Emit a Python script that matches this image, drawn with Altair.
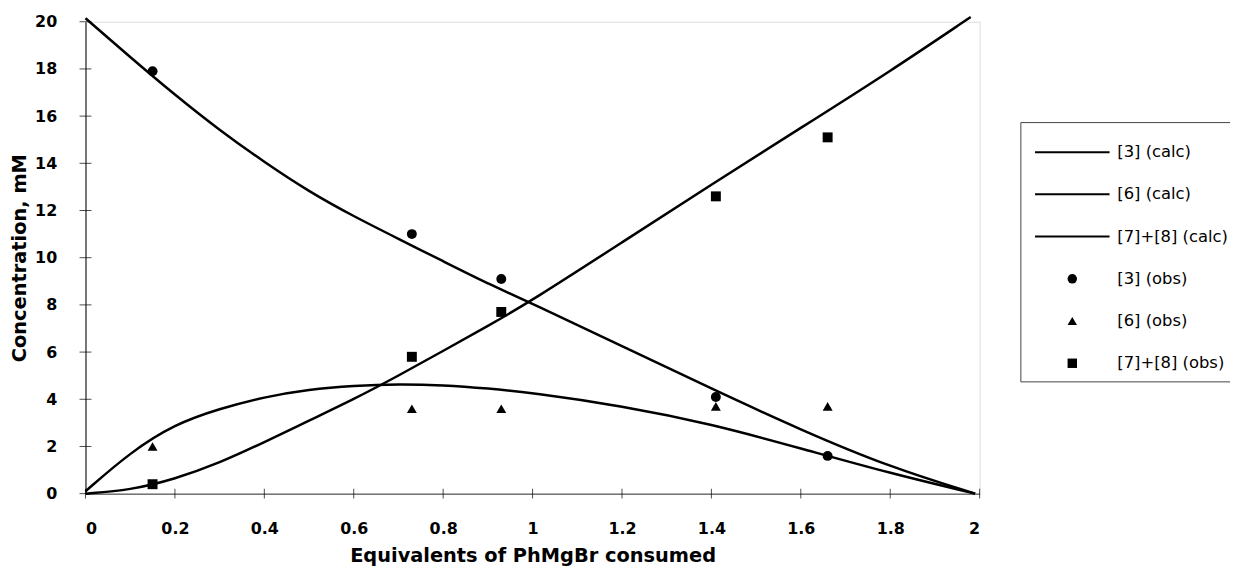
import altair as alt
import pandas as pd

# ---- data ----
series_names = ["[3] (calc)", "[6] (calc)", "[7]+[8] (calc)",
                "[3] (obs)", "[6] (obs)", "[7]+[8] (obs)"]

calc3_x = [0, 0.1, 0.2, 0.3, 0.4, 0.5, 0.6, 0.7, 0.8, 0.9, 1.0, 1.2, 1.4, 1.6, 1.8, 1.99]
calc3_y = [20.15, 18.5, 16.9, 15.4, 14.05, 12.8, 11.75, 10.8, 9.85, 8.9, 8.05, 6.25, 4.45, 2.7, 1.12, 0]

calc6_x = [0, 0.1, 0.2, 0.3, 0.4, 0.5, 0.6, 0.7, 0.8, 0.9, 1.0, 1.2, 1.4, 1.6, 1.8, 1.99]
calc6_y = [0.1, 1.75, 2.95, 3.6, 4.1, 4.42, 4.58, 4.65, 4.6, 4.46, 4.27, 3.72, 2.95, 1.92, 0.86, 0]

calc78_x = [0, 0.1, 0.2, 0.3, 0.4, 0.5, 0.6, 0.7, 0.8, 0.9, 1.0, 1.2, 1.4, 1.6, 1.8, 1.98]
calc78_y = [0, 0.15, 0.62, 1.3, 2.18, 3.1, 4.0, 5.0, 6.05, 7.1, 8.2, 10.65, 13.1, 15.5, 17.9, 20.2]

obs_x = [0.15, 0.73, 0.93, 1.41, 1.66]
obs3_y = [17.9, 11.0, 9.1, 4.1, 1.6]
obs6_y = [2.0, 3.6, 3.6, 3.7, 3.7]
obs78_y = [0.4, 5.8, 7.7, 12.6, 15.1]

x_ticks = [0, 0.2, 0.4, 0.6, 0.8, 1.0, 1.2, 1.4, 1.6, 1.8, 2.0]
y_ticks = [0, 2, 4, 6, 8, 10, 12, 14, 16, 18, 20]

# ---- tables ----
calc_df = pd.concat([
    pd.DataFrame({"x": calc3_x, "y": calc3_y, "series": series_names[0]}),
    pd.DataFrame({"x": calc6_x, "y": calc6_y, "series": series_names[1]}),
    pd.DataFrame({"x": calc78_x, "y": calc78_y, "series": series_names[2]}),
])
obs_df = pd.concat([
    pd.DataFrame({"x": obs_x, "y": obs3_y, "series": series_names[3]}),
    pd.DataFrame({"x": obs_x, "y": obs6_y, "series": series_names[4]}),
    pd.DataFrame({"x": obs_x, "y": obs78_y, "series": series_names[5]}),
])
ytick_df = pd.DataFrame({"x": [0] * len(y_ticks), "y": y_ticks})
xtick_df = pd.DataFrame({"x": x_ticks, "y": [0] * len(x_ticks)})

# legend symbol for the calculated curves: a thin filled bar ~75 px long
line_path = "M-7.906,-0.21L7.906,-0.21L7.906,0.21L-7.906,0.21Z"
shape_range = [line_path, line_path, line_path, "circle", "triangle-up", "square"]

x_scale = alt.Scale(domain=[0, 2], nice=False, zero=False)
y_scale = alt.Scale(domain=[0, 20], nice=False, zero=False)

x_axis = alt.Axis(values=x_ticks, format="~g", title="Equivalents of PhMgBr consumed",
                  grid=False, ticks=False, tickSize=0, labelPadding=27,
                  labelFont="DejaVu Sans", labelFontSize=16, labelFontWeight="bold",
                  labelColor="black", titleFont="DejaVu Sans", titleFontSize=19.5,
                  titleFontWeight="bold", titleColor="black", titlePadding=10,
                  domainColor="#333", domainWidth=1)
y_axis = alt.Axis(values=y_ticks, format="d", title="Concentration, mM",
                  grid=False, ticks=False, tickSize=0, labelPadding=29,
                  labelFont="DejaVu Sans", labelFontSize=16, labelFontWeight="bold",
                  labelColor="black", titleFont="DejaVu Sans", titleFontSize=19.5,
                  titleFontWeight="bold", titleColor="black", titlePadding=5,
                  domainColor="black", domainWidth=1)

lines = alt.Chart(calc_df).mark_line(color="black", strokeWidth=2.5, interpolate="basis").encode(
    x=alt.X("x:Q", scale=x_scale, axis=x_axis),
    y=alt.Y("y:Q", scale=y_scale, axis=y_axis),
    detail="series:N",
)

points = alt.Chart(obs_df).mark_point(filled=True, color="black", opacity=1, size=100).encode(
    x=alt.X("x:Q", scale=x_scale),
    y=alt.Y("y:Q", scale=y_scale),
    shape=alt.Shape("series:N",
                    scale=alt.Scale(domain=series_names, range=shape_range),
                    legend=alt.Legend(title=" ", titleFontSize=7, titlePadding=6,
                                      orient="none", legendX=941, legendY=101,
                                      padding=9, rowPadding=25.5, symbolOffset=35, labelOffset=37,
                                      labelFont="DejaVu Sans", labelFontSize=16.5, labelColor="black",
                                      labelLimit=400, symbolSize=90, symbolStrokeWidth=0,
                                      symbolFillColor="black", symbolStrokeColor="black",
                                      strokeColor="#444", fillColor="white")),
)

yticks = alt.Chart(ytick_df).mark_tick(orient="horizontal", size=12, thickness=1, color="black").encode(
    x=alt.X("x:Q", scale=x_scale),
    y=alt.Y("y:Q", scale=y_scale),
)
xticks = alt.Chart(xtick_df).mark_tick(orient="vertical", size=10, thickness=1, color="black").encode(
    x=alt.X("x:Q", scale=x_scale),
    y=alt.Y("y:Q", scale=y_scale),
)

chart = alt.layer(lines, yticks, xticks, points).properties(
    width=900, height=475,
    autosize=alt.AutoSizeParams(type="none"),
    padding={"left": 78, "top": 12, "right": 252, "bottom": 72},
).configure_view(stroke="transparent", strokeWidth=0, strokeOpacity=0).configure(background="white")

chart.save("out.html", embed_options={"renderer": "svg", "actions": False})
